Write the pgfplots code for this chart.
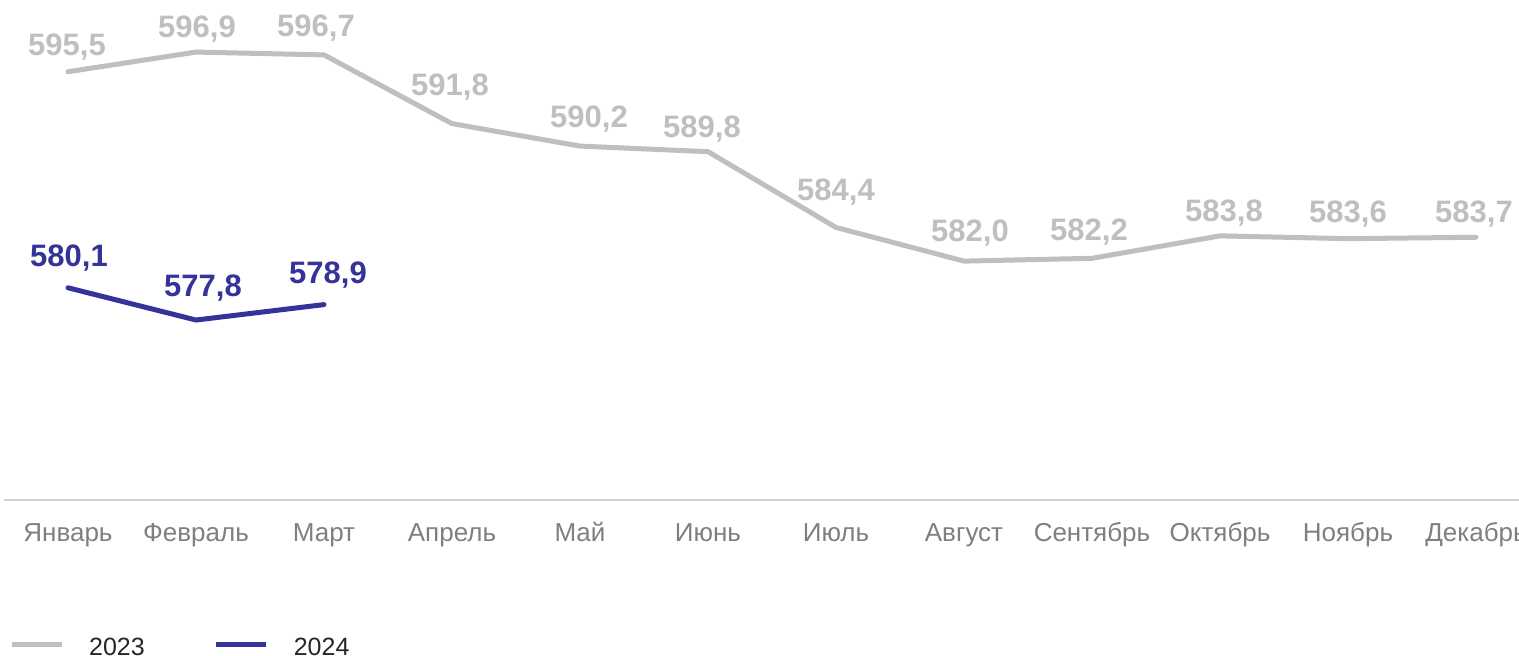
\documentclass[border=0pt]{standalone}
\usepackage{pgfplots}
\pgfplotsset{compat=1.18}
\usepackage{fontspec}
\setmainfont{Liberation Sans}
\definecolor{line23}{HTML}{BFBFBF}
\definecolor{line24}{HTML}{333399}
\definecolor{ticktxt}{HTML}{7F7F7F}
\definecolor{axisln}{HTML}{D0D0D0}
\definecolor{legtxt}{HTML}{262626}
% x = month index, y = value, lx/ly = label offset (pt)
\pgfplotstableread{
x  y      lx  ly
0  595.5  -1  16
1  596.9   1  15
2  596.7  -8  18
3  591.8  -2  28
4  590.2   9  19
5  589.8  -6  14
6  584.4   0  27
7  582.0   6  20
8  582.2  -3  18
9  583.8   4  14
10 583.6   0  16
11 583.7  -2  15
}\yeartwentythree
\pgfplotstableread{
x  y      lx  ly
0  580.1   1  21
1  577.8   7  24
2  578.9   4  21
}\yeartwentyfour
\begin{document}
\begin{tikzpicture}
\begin{axis}[
    at={(4pt,156.4pt)}, anchor=south west,
    scale only axis,
    width=1515pt, height=491pt,
    xmin=-0.5, xmax=11.336,
    ymin=565, ymax=600,
    axis x line=bottom, axis y line=none,
    x axis line style={-, draw=axisln, line width=2pt},
    xtick={0,...,11},
    xticklabels={Январь,Февраль,Март,Апрель,Май,Июнь,Июль,Август,Сентябрь,Октябрь,Ноябрь,Декабрь},
    major tick length=0pt,
    ytick=\empty,
    xticklabel style={font=\fontsize{26}{30}\selectfont, text=ticktxt, anchor=base, yshift=-42pt, inner sep=0pt},
    clip=false,
    nodes near coords,
    /pgf/number format/use comma,
    /pgf/number format/fixed,
    /pgf/number format/fixed zerofill,
    /pgf/number format/precision=1,
    /pgf/number format/assume math mode=true,
    visualization depends on={\thisrow{lx} \as \lblx},
    visualization depends on={\thisrow{ly} \as \lbly},
    every node near coord/.append style={font=\fontsize{31}{36}\selectfont\bfseries,
        anchor=base, inner sep=0pt, xshift=\lblx pt, yshift=\lbly pt},
    legend columns=2,
    legend style={at={(0.0033,-0.296)}, anchor=west, draw=none, fill=none, inner sep=0pt,
        font=\fontsize{25}{30}\selectfont, text=legtxt, nodes={inner sep=0pt},
        /tikz/every odd column/.append style={column sep=25pt},
        /tikz/every even column/.append style={column sep=69pt}},
    legend image code/.code={\draw[#1, line cap=butt] (0pt,0pt) -- (50pt,0pt);},
]
\addplot[color=line23, line width=5pt, line join=round, line cap=round,
    every node near coord/.append style={text=line23}]
    table[x=x, y=y] {\yeartwentythree};
\addlegendentry{\raisebox{-5pt}{2023}}
\addplot[color=line24, line width=5pt, line join=round, line cap=round,
    every node near coord/.append style={text=line24}]
    table[x=x, y=y] {\yeartwentyfour};
\addlegendentry{\raisebox{-5pt}{2024}}
\end{axis}
\pgfresetboundingbox
\path[use as bounding box] (0,0) rectangle (1519pt,656pt);
\end{tikzpicture}
\end{document}
